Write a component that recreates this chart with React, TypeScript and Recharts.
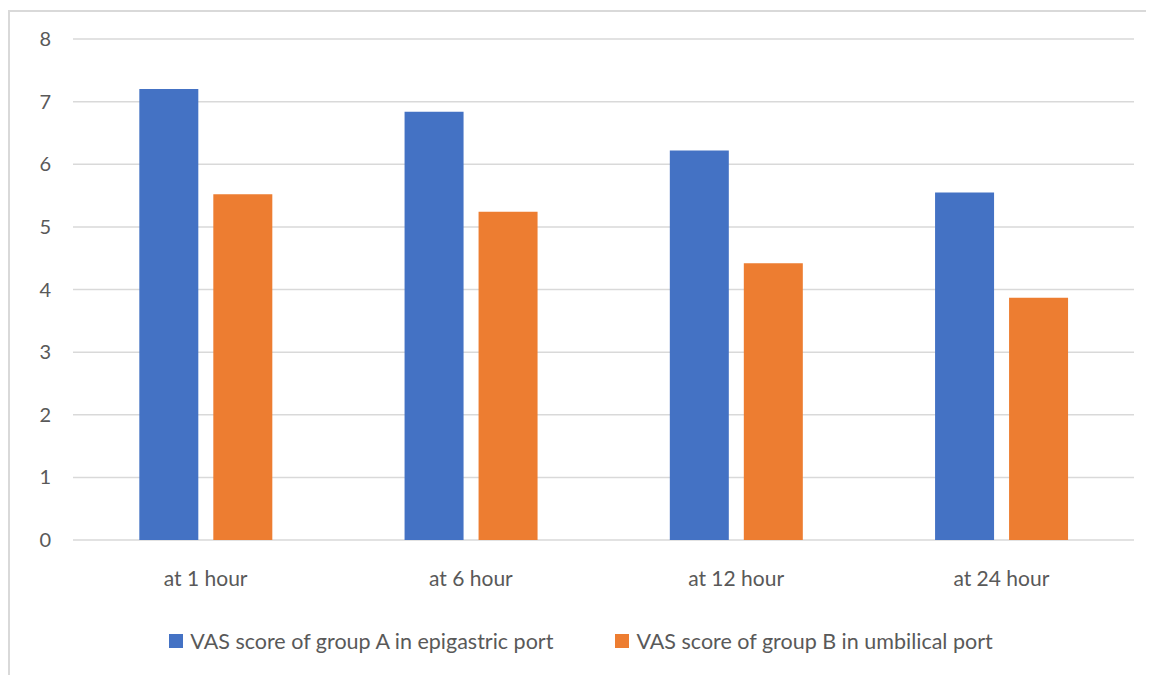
import { BarChart, Bar, XAxis, YAxis, CartesianGrid, Legend } from "recharts";

const categories = ["at 1 hour", "at 6 hour", "at 12 hour", "at 24 hour"];
const groupA = [7.2, 6.84, 6.22, 5.55];
const groupB = [5.52, 5.24, 4.42, 3.87];
const yTicks = [0, 1, 2, 3, 4, 5, 6, 7, 8];

const seriesNames = {
  a: "VAS score of group A in epigastric port",
  b: "VAS score of group B in umbilical port",
};

const data = categories.map((name, i) => ({ name, a: groupA[i], b: groupB[i] }));

const FONT = "Lato, 'Open Sans', sans-serif";
const TEXT = "#595959";

function LegendContent({ payload }: any) {
  return (
    <div
      style={{
        display: "flex",
        justifyContent: "center",
        paddingTop: 20,
        fontFamily: FONT,
        fontSize: 21.5,
        color: TEXT,
      }}
    >
      {(payload || []).map((p: any, i: number) => (
        <div key={p.value} style={{ display: "flex", alignItems: "center", marginLeft: i ? 62 : 0 }}>
          <span style={{ width: 14, height: 14, background: p.color, display: "inline-block", marginRight: 7 }} />
          <span>{p.value}</span>
        </div>
      ))}
    </div>
  );
}

export default function App() {
  return (
    <div
      style={{
        width: 1146,
        height: 665,
        marginTop: 2,
        borderLeft: "2px solid #d9d9d9",
        borderTop: "2px solid #d9d9d9",
        boxSizing: "border-box",
      }}
    >
      <BarChart
        width={1144}
        height={663}
        data={data}
        margin={{ top: 27, right: 20, left: 18, bottom: 12 }}
        barCategoryGap="25%"
        barGap={15}
      >
        <CartesianGrid vertical={false} stroke="#d9d9d9" strokeWidth={1.5} />
        <XAxis
          dataKey="name"
          axisLine={false}
          tickLine={false}
          height={68}
          tick={{ fill: TEXT, fontSize: 21, fontFamily: FONT, dy: 23 }}
        />
        <YAxis
          domain={[0, 8]}
          ticks={yTicks}
          axisLine={false}
          tickLine={false}
          width={45}
          tick={{ fill: TEXT, fontSize: 20, fontFamily: FONT, dx: -14 }}
        />
        <Legend verticalAlign="bottom" height={55} content={<LegendContent />} />
        <Bar dataKey="a" name={seriesNames.a} fill="#4472c4" isAnimationActive={false} />
        <Bar dataKey="b" name={seriesNames.b} fill="#ed7d31" isAnimationActive={false} />
      </BarChart>
    </div>
  );
}
